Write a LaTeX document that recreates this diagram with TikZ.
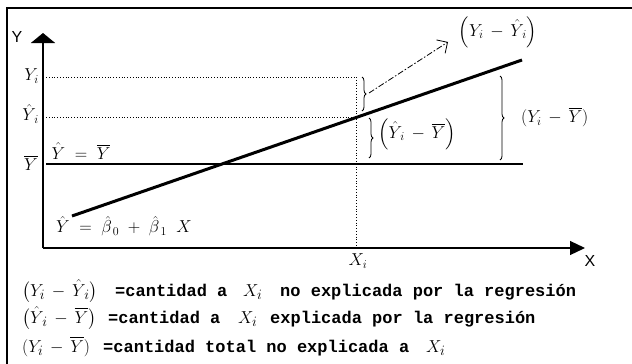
\documentclass[tikz,border=0pt]{standalone}
\usepackage{amsmath}
\usepackage{fontspec}
\setmonofont{Liberation Mono}
\setsansfont{Liberation Sans}
\usetikzlibrary{arrows.meta,decorations.pathreplacing}
\tikzset{
  guia/.style={dotted, line width=0.8pt},
  llave/.style={decorate, decoration={brace, amplitude=4pt}, line width=0.8pt},
  etq/.style={font=\fontsize{17}{19}\selectfont, inner sep=0pt},
  ley/.style={anchor=base west, font=\fontsize{19}{21}\selectfont, inner sep=0pt},
  leyt/.style={anchor=base west, font=\fontsize{17}{18}\selectfont\ttfamily\bfseries, inner sep=0pt},
}
\begin{document}
\begin{tikzpicture}[x=1pt,y=-1pt]
\useasboundingbox (0,0) rectangle (632,364);
\coordinate (bl) at (7,364);
\coordinate (tl) at (7,8);
\coordinate (tr) at (632,8);
\draw[line width=1.6pt] (bl) -- (tl) -- (tr);

\coordinate (O) at (43,248);
\coordinate (ytop) at (43,33);
\coordinate (xfin) at (585,248);
\draw[line width=1.8pt,-{Triangle[length=10pt,width=24pt]}] (O) -- (ytop);
\draw[line width=1.2pt,-{Triangle[length=15pt,width=14pt]}] (O) -- (xfin);
\node[etq,font=\sffamily\fontsize{16}{18}\selectfont] (ylab) at (17,37) {Y};
\node[etq,font=\sffamily\fontsize{16}{18}\selectfont] (xlab) at (590,261) {X};

\node[etq,anchor=east] (yi) at (39,76) {$Y_i$};
\node[etq,anchor=east] (yhi) at (39,114) {$\hat{Y}_{\,i}$};
\node[etq,anchor=east] (ybar) at (38,163) {$\overline{Y}$};

\coordinate (yi0) at (46,77);
\coordinate (yi1) at (356,77);
\coordinate (yh0) at (46,117);
\coordinate (yh1) at (356,117);
\coordinate (yb0) at (46,164);
\coordinate (yb1) at (523,164);
\coordinate (xi) at (356,248);
\draw[guia] (yi0) -- (yi1);
\draw[guia] (yh0) -- (yh1);
\draw[line width=1.2pt] (yb0) -- (yb1);
\draw[guia] (yi1) -- (xi);
\node[etq] (xilab) at (358,261) {$X_i$};

\coordinate (r0) at (72,216);
\coordinate (r1) at (522,60);
\draw[line width=3pt] (r0) -- (r1);
\node[etq] (media) at (81,151) {$\hat{Y}\;=\;\overline{Y}$};
\node[etq] (recta) at (124,226) {$\hat{Y}\;=\;\hat{\beta}_{\,0}\;+\;\hat{\beta}_{\,1}\;\;X$};

\coordinate (b1a) at (362,77);
\coordinate (b1b) at (362,111);
\coordinate (b2a) at (369,118);
\coordinate (b2b) at (369,158);
\coordinate (b3a) at (500,76);
\coordinate (b3b) at (500,160);
\draw[llave] (b1a) -- (b1b);
\draw[llave] (b2a) -- (b2b);
\draw[llave] (b3a) -- (b3b);
\coordinate (p1) at (369,93);
\coordinate (f1) at (448,42);
\draw[line width=0.8pt,dash pattern=on 6pt off 2pt on 1.5pt off 2pt,-{Straight Barb[length=8pt,width=16pt]}] (p1) -- (f1);
\node[etq] (d1) at (498,32) {$\Bigl(Y_i\,-\,\hat{Y}_{\,i}\Bigr)$};
\node[etq,anchor=west] (d2) at (378,134) {$\Bigl(\hat{Y}_{\,i}\,-\,\overline{Y}\Bigr)$};
\node[etq,anchor=west] (d3) at (521,117) {$(Y_i\,-\,\overline{Y})$};

\node[ley] (l1a) at (22,296) {$\bigl(Y_i\,-\,\hat{Y}_{\,i}\bigr)$};
\node[leyt] (l1b) at (115,296) {=cantidad a};
\node[ley] (l1c) at (243,296) {$X_i$};
\node[leyt] (l1d) at (280,296) {no explicada por la regresión};
\node[ley] (l2a) at (22,323) {$\bigl(\hat{Y}_{\,i}\,-\,\overline{Y}\bigr)$};
\node[leyt] (l2b) at (108,323) {=cantidad a};
\node[ley] (l2c) at (238,323) {$X_i$};
\node[leyt] (l2d) at (270,323) {explicada por la regresión};
\node[ley] (l3a) at (22,352) {$(Y_i\,-\,\overline{Y})$};
\node[leyt] (l3b) at (103,352) {=cantidad total no explicada a};
\node[ley] (l3c) at (426,352) {$X_i$};
\end{tikzpicture}
\end{document}
